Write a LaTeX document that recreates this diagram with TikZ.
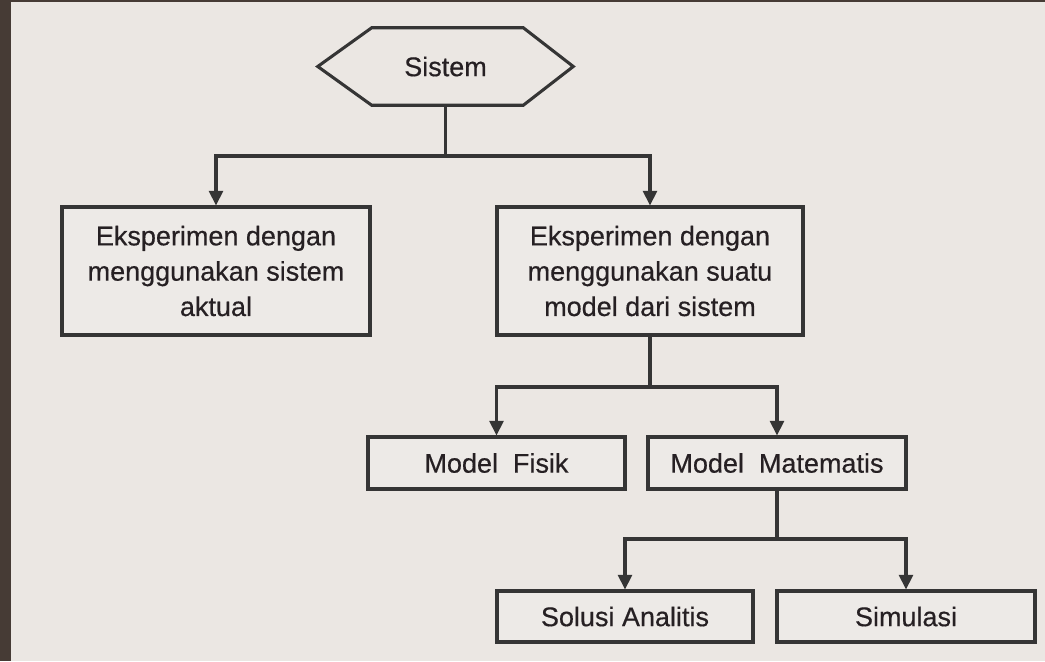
\documentclass[tikz,border=0pt]{standalone}
\usepackage{fontspec}
\setmainfont{Liberation Sans}
\newfontfamily\heavysans[FakeBold=0.5]{Liberation Sans}
\usetikzlibrary{arrows.meta}
\definecolor{bgc}{HTML}{EBE7E3}
\definecolor{framec}{HTML}{463B35}
\definecolor{ink}{HTML}{353535}
\definecolor{txt}{HTML}{262023}
\definecolor{boxfill}{HTML}{EDEAE7}
\tikzset{
  box/.style={draw=ink, line width=2.3pt, fill=boxfill, text=txt, align=center, inner sep=0pt},
  conn/.style={draw=ink, line width=2.3pt},
  arr/.style={-{Triangle[length=11pt,width=10.5pt]}},
}
\begin{document}
\begin{tikzpicture}[x=0.75pt,y=-0.75pt,font=\heavysans\fontsize{20.25}{26.5}\selectfont]
\fill[framec] (0,0) rectangle (1045,661);
\fill[bgc] (11,2) rectangle (1045,661);
\useasboundingbox (0,0) rectangle (1045,661);

% hexagon
\node[text=txt, minimum width=191.25pt, minimum height=57.75pt, inner sep=0pt] (sys) at (445.5,66.5) {Sistem};
\draw[ink, line width=2.3pt, line join=miter]
  (sys.west) -- ([xshift=40.5pt]sys.north west) -- ([xshift=-37.5pt]sys.north east)
  -- (sys.east) -- ([xshift=-37.5pt]sys.south east) -- ([xshift=40.5pt]sys.south west) -- cycle;

% level 1
\node[box, minimum width=231pt, minimum height=96pt] (eact) at (216,271)
  {Eksperimen dengan\\menggunakan sistem\\aktual};
\node[box, minimum width=229.5pt, minimum height=96pt] (emod) at (650,271)
  {Eksperimen dengan\\menggunakan suatu\\model dari sistem};

% level 2
\node[box, minimum width=192.75pt, minimum height=39pt] (fis) at (496.5,463) {Model\ \ Fisik};
\node[box, minimum width=193.5pt, minimum height=39pt] (mat) at (777,463) {Model\ \ Matematis};

% level 3
\node[box, minimum width=192pt, minimum height=38.25pt] (sol) at (625,616.5) {Solusi Analitis};
\node[box, minimum width=193.5pt, minimum height=38.25pt] (sim) at (906,616.5) {Simulasi};

% connectors
\coordinate (j1) at (445.5,156);
\draw[conn] (sys.south) -- (j1);
\draw[conn, arr] (j1) -| (eact.north);
\draw[conn, arr] (j1) -| (emod.north);

\coordinate (j2) at (650,387);
\draw[conn] (emod.south) -- (j2);
\draw[conn, arr] (j2) -| (fis.north);
\draw[conn, arr] (j2) -| (mat.north);

\coordinate (j3) at (777,539);
\draw[conn] (mat.south) -- (j3);
\draw[conn, arr] (j3) -| (sol.north);
\draw[conn, arr] (j3) -| (sim.north);
\end{tikzpicture}
\end{document}
